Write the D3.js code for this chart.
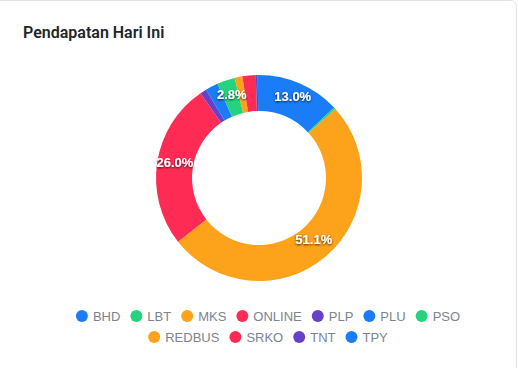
<!DOCTYPE html>
<html>
<head>
<meta charset="utf-8">
<script src="https://cdn.jsdelivr.net/npm/d3@7"></script>
<style>
  html, body { margin: 0; padding: 0; background: #ffffff; }
  svg { display: block; }
</style>
</head>
<body>
<svg id="chart" width="518" height="368"></svg>
<script>
const title = "Pendapatan Hari Ini";
const categories = ["BHD", "LBT", "MKS", "ONLINE", "PLP", "PLU", "PSO", "REDBUS", "SRKO", "TNT", "TPY"];
const shares = [13.0, 0.3, 51.1, 26.0, 1.0, 2.0, 2.8, 1.2, 2.1, 0.3, 0.2];
const palette = ["#1a7cf7", "#27d27e", "#fca21b", "#fe2c54", "#6841c9"];

const svg = d3.select("#chart");
const W = 518, H = 368;

// card
svg.append("rect")
  .attr("x", -10).attr("y", 0.5)
  .attr("width", 526.5).attr("height", 420)
  .attr("rx", 6)
  .attr("fill", "#ffffff")
  .attr("stroke", "#dfe3e8");

svg.append("text")
  .attr("x", 23).attr("y", 38)
  .attr("font-family", "Roboto, 'Liberation Sans', Arial, sans-serif")
  .attr("font-weight", 600)
  .attr("font-size", 16)
  .attr("fill", "#212529")
  .text(title);

const color = d3.scaleOrdinal().domain(categories).range(palette);
const total = d3.sum(shares);

const cx = 259, cy = 178, outerR = 103, innerR = 67;
const pie = d3.pie().sort(null).value(d => d.v);
const arcs = pie(categories.map((c, i) => ({ c, v: shares[i] })));
const arc = d3.arc().innerRadius(innerR).outerRadius(outerR);

const g = svg.append("g").attr("transform", `translate(${cx},${cy})`);
g.selectAll("path.slice")
  .data(arcs)
  .join("path")
  .attr("class", "slice")
  .attr("d", arc)
  .attr("fill", d => color(d.data.c));

const defs = svg.append("defs");
const f = defs.append("filter").attr("id", "shadow")
  .attr("x", "-30%").attr("y", "-50%").attr("width", "160%").attr("height", "200%");
f.append("feDropShadow").attr("dx", 0).attr("dy", 1).attr("stdDeviation", 1.2)
  .attr("flood-color", "#000").attr("flood-opacity", 0.75);

g.selectAll("text.lbl")
  .data(arcs.filter(d => d.data.v / total * 100 >= 2.5))
  .join("text")
  .attr("class", "lbl")
  .attr("transform", d => `translate(${arc.centroid(d)})`)
  .attr("text-anchor", "middle")
  .attr("dy", "0.1em")
  .attr("font-family", "'Liberation Sans', Arial, sans-serif")
  .attr("font-weight", 700)
  .attr("font-size", 13)
  .attr("fill", "#ffffff")
  .attr("filter", "url(#shadow)")
  .text(d => (d.data.v / total * 100).toFixed(1) + "%");

// legend
const legendFont = "13px 'Liberation Sans', Arial, sans-serif";
const ctx = document.createElement("canvas").getContext("2d");
ctx.font = legendFont;
const dotD = 12, dotGap = 5, itemGap = 10, maxRow = 420;
const items = categories.map(c => ({ c, w: dotD + dotGap + ctx.measureText(c).width }));
const rows = [];
let cur = [], curW = 0;
items.forEach(it => {
  const add = (cur.length ? itemGap : 0) + it.w;
  if (cur.length && curW + add > maxRow) { rows.push({ items: cur, w: curW }); cur = []; curW = 0; }
  curW += (cur.length ? itemGap : 0) + it.w;
  cur.push(it);
});
if (cur.length) rows.push({ items: cur, w: curW });

const legendCx = 268, rowY0 = 316, rowH = 21;
const lg = svg.append("g");
rows.forEach((row, ri) => {
  let x = legendCx - row.w / 2;
  const y = rowY0 + ri * rowH;
  row.items.forEach(it => {
    lg.append("circle")
      .attr("cx", x + dotD / 2).attr("cy", y)
      .attr("r", dotD / 2)
      .attr("fill", color(it.c));
    lg.append("text")
      .attr("x", x + dotD + dotGap).attr("y", y)
      .attr("dy", "0.36em")
      .attr("font-family", "'Liberation Sans', Arial, sans-serif")
      .attr("font-size", 13)
      .attr("fill", "#7b8490")
      .text(it.c);
    x += it.w + itemGap;
  });
});
</script>
</body>
</html>
